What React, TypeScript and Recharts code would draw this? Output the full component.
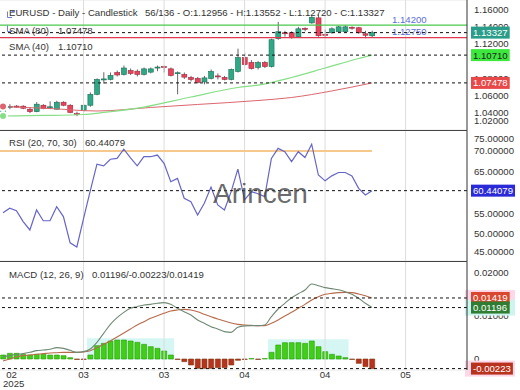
import React from 'react';
import {
  ComposedChart, Bar, Line, XAxis, YAxis, CartesianGrid, ReferenceLine, ReferenceArea, Cell,
} from 'recharts';

const FONT = '"Liberation Sans", Arial, Helvetica, sans-serif';

// daily candles, 56 of 136 shown
const opens = [
  1.0384, 1.0470, 1.0478, 1.0477, 1.0442, 1.0413, 1.0488, 1.0465, 1.0442, 1.0523,
  1.0488, 1.0390, 1.0430, 1.0488, 1.0615, 1.0788, 1.0788, 1.0869, 1.0846, 1.0892,
  1.0884, 1.0846, 1.0873, 1.0925, 1.0938, 1.0911, 1.0860, 1.0846, 1.0811, 1.0800,
  1.0759, 1.0800, 1.0829, 1.0811, 1.0788, 1.0881, 1.1042, 1.0985, 1.0927, 1.0985,
  1.0938, 1.1262, 1.1331, 1.1331, 1.1285, 1.1383, 1.1446, 1.1504, 1.1313, 1.1331,
  1.1343, 1.1343, 1.1395, 1.1389, 1.1319, 1.12956,
];
const highs = [
  1.0488, 1.0500, 1.0490, 1.0488, 1.0465, 1.0523, 1.0500, 1.0534, 1.0540, 1.0534,
  1.0500, 1.0413, 1.0500, 1.0638, 1.0800, 1.0872, 1.0869, 1.0892, 1.0950, 1.0915,
  1.0904, 1.0927, 1.0927, 1.0950, 1.0950, 1.0927, 1.0881, 1.0869, 1.0829, 1.0817,
  1.0829, 1.0904, 1.0858, 1.0829, 1.0915, 1.1146, 1.1100, 1.1013, 1.1002, 1.1002,
  1.1262, 1.1458, 1.1354, 1.1348, 1.1400, 1.1394, 1.1527, 1.1544, 1.1366, 1.1394,
  1.1412, 1.1418, 1.1406, 1.1400, 1.1354, 1.13552,
];
const lows = [
  1.0361, 1.0442, 1.0460, 1.0442, 1.0396, 1.0407, 1.0442, 1.0442, 1.0437, 1.0477,
  1.0396, 1.0361, 1.0407, 1.0471, 1.0604, 1.0739, 1.0777, 1.0823, 1.0834, 1.0840,
  1.0823, 1.0834, 1.0858, 1.0884, 1.0869, 1.0823, 1.0615, 1.0794, 1.0765, 1.0742,
  1.0731, 1.0788, 1.0788, 1.0777, 1.0777, 1.0869, 1.0944, 1.0904, 1.0904, 1.0921,
  1.0927, 1.1250, 1.1285, 1.1262, 1.1273, 1.1348, 1.1435, 1.1285, 1.1273, 1.1319,
  1.1331, 1.1331, 1.1366, 1.1319, 1.1267, 1.12720,
];
const closes = [
  1.0465, 1.0476, 1.0474, 1.0453, 1.0413, 1.0500, 1.0450, 1.0470, 1.0523, 1.0488,
  1.0404, 1.0384, 1.0488, 1.0615, 1.0788, 1.0794, 1.0834, 1.0840, 1.0921, 1.0858,
  1.0846, 1.0911, 1.0911, 1.0932, 1.0930, 1.0834, 1.0866, 1.0815, 1.0788, 1.0754,
  1.0806, 1.0881, 1.0821, 1.0788, 1.0904, 1.1042, 1.0961, 1.0915, 1.0985, 1.0938,
  1.1250, 1.1343, 1.1319, 1.1273, 1.1377, 1.1371, 1.1510, 1.1296, 1.1302, 1.1377,
  1.1400, 1.1400, 1.1385, 1.1331, 1.1302, 1.13327,
];

// moving averages, read at a few candles
const sma40Idx = [0, 6, 12, 15, 21, 28, 35, 38, 43, 48, 53, 55];
const sma40Val = [1.0363, 1.0369, 1.0380, 1.0404, 1.0467, 1.0584, 1.0694, 1.0723, 1.0811, 1.0921, 1.1032, 1.10710];
const sma80Idx = [0, 7, 14, 22, 29, 38, 43, 49, 55];
const sma80Val = [1.0473, 1.0450, 1.0421, 1.0462, 1.0497, 1.0543, 1.0578, 1.0654, 1.07478];

const rsiValues = [
  55.1, 56.2, 55.6, 53.0, 51.0, 55.8, 53.2, 53.2, 56.6, 54.2,
  47.9, 46.9, 53.7, 60.4, 66.8, 66.4, 68.0, 68.2, 70.4, 68.3,
  66.4, 68.6, 68.6, 69.0, 67.0, 62.6, 63.4, 58.6, 57.8, 54.6,
  57.4, 61.3, 57.0, 55.8, 60.2, 65.6, 58.2, 60.2, 59.7, 59.0,
  68.2, 70.6, 69.8, 67.4, 69.8, 68.4, 71.6, 64.2, 62.8, 64.0,
  64.8, 64.8, 64.0, 61.0, 59.4, 60.44079,
];

const macdValues = [
  0.00054, 0.00078, 0.00109, 0.00124, 0.00155, 0.00194, 0.00209, 0.00225, 0.00264, 0.00248,
  0.00202, 0.00155, 0.00171, 0.00233, 0.00388, 0.00597, 0.00806, 0.00961, 0.01085, 0.01178,
  0.01217, 0.01256, 0.01271, 0.01295, 0.0131, 0.01271, 0.01178, 0.01101, 0.01023, 0.00907,
  0.00829, 0.00752, 0.00698, 0.00636, 0.0062, 0.0074, 0.0077, 0.00775, 0.00775, 0.00791,
  0.00984, 0.01163, 0.01295, 0.01426, 0.01519, 0.01605, 0.01744, 0.01705, 0.01659, 0.01636,
  0.01612, 0.01566, 0.01504, 0.01411, 0.01295, 0.01196,
];
const signalValues = [
  -0.00047, 0, 0.00047, 0.00078, 0.00093, 0.00109, 0.00124, 0.0014, 0.00147, 0.00155,
  0.00155, 0.00155, 0.00163, 0.00194, 0.00264, 0.00341, 0.00419, 0.00512, 0.00605, 0.00698,
  0.00791, 0.00868, 0.00946, 0.01008, 0.01062, 0.01116, 0.0114, 0.01155, 0.0114, 0.01101,
  0.01039, 0.00984, 0.0093, 0.00884, 0.00837, 0.00806, 0.00791, 0.00783, 0.00775, 0.00775,
  0.00829, 0.00907, 0.01, 0.01085, 0.01178, 0.01271, 0.01372, 0.0145, 0.01504, 0.01527,
  0.01543, 0.0155, 0.01543, 0.01512, 0.01473, 0.01419,
];
const histValues = [
  0.00093, 0.00132, 0.00132, 0.00109, 0.00093, 0.00109, 0.00109, 0.00093, 0.00093, 0.00078,
  0.00031, -0.0001, -0.0001, 0.00093, 0.0031, 0.00364, 0.00419, 0.00442, 0.00442, 0.00419,
  0.00388, 0.00341, 0.00287, 0.00248, 0.00186, 0.00093, -0.0001, -0.00062, -0.0014, -0.00217,
  -0.00217, -0.00217, -0.00202, -0.00202, -0.0014, -0.0003, -0.0001, 0.0001, -0.0001, 0.0001,
  0.00155, 0.00326, 0.0038, 0.0038, 0.0038, 0.00364, 0.00419, 0.00287, 0.00171, 0.00109,
  0.0007, 0.00031, -0.0001, -0.00101, -0.00178, -0.00223,
];

const xTicks = [0, 12, 24, 36, 48, 60];
const xLabels = ['02', '03', '03', '04', '04', '05'];
const yearLabel = '2025';

const priceTicks = [1.02, 1.04, 1.06, 1.08, 1.1, 1.12, 1.14, 1.16];
const rsiTicks = [45, 50, 55, 60, 65, 70, 75];
const macdTicks = [0, 0.01, 0.02];

const levelHigh = 1.142;
const levelLow = 1.1275;
const rsiUpper = 70;

const X_DOMAIN: [number, number] = [-0.45, 69.15];
const last = closes.length - 1;

const sma40Map = new Map(sma40Idx.map((k, j) => [k, sma40Val[j]]));
const sma80Map = new Map(sma80Idx.map((k, j) => [k, sma80Val[j]]));

const data = closes.map((c, i) => ({
  i,
  open: opens[i],
  high: highs[i],
  low: lows[i],
  close: c,
  range: [lows[i], highs[i]],
  sma40: sma40Map.has(i) ? sma40Map.get(i) : null,
  sma80: sma80Map.has(i) ? sma80Map.get(i) : null,
  rsi: rsiValues[i],
  macd: macdValues[i],
  signal: signalValues[i],
  hist: histValues[i],
}));

// shaded blocks behind runs of same-sign histogram bars
const histRuns: { sign: number; start: number; end: number; peak: number }[] = [];
let run: any = null;
histValues.forEach((h, i) => {
  const s = Math.abs(h) < 0.0002 ? 0 : Math.sign(h);
  if (s === 0) { run = null; return; }
  if (run && run.sign === s) {
    run.end = i;
    run.peak = s > 0 ? Math.max(run.peak, h) : Math.min(run.peak, h);
  } else {
    run = { sign: s, start: i, end: i, peak: h };
    histRuns.push(run);
  }
});

const fmt = (v: number) => (v === 0 ? '0' : v.toFixed(5));

const charW = (ch: string) => (ch === '.' ? 0.278 : ch === '-' ? 0.333 : 0.556) * 9.6;

// right-hand tick text, kept inside its panel
const AxisText = (props: any) => {
  const { viewBox, text, lo, hi } = props;
  if (!viewBox) return null;
  const yy = Math.max(lo, Math.min(hi, viewBox.y));
  return (
    <text x={viewBox.x + viewBox.width + 7} y={yy + 3.4} fontSize={9.6} fill="#333" fontFamily={FONT}>{text}</text>
  );
};

const Tag = (props: any) => {
  const { viewBox, text, bg, fg } = props;
  if (!viewBox) return null;
  const w = text.split('').reduce((s: number, ch: string) => s + charW(ch), 0) + 4;
  const bx = viewBox.x + viewBox.width + 4;
  const cy = viewBox.y;
  return (
    <g>
      <rect x={bx} y={cy - 6} width={w} height={12} fill={bg} />
      <text x={bx + 2} y={cy + 3.4} fontSize={9.6} fill={fg} fontFamily={FONT}>{text}</text>
    </g>
  );
};

const Halo = (props: any) => {
  const { viewBox, color } = props;
  if (!viewBox) return null;
  const bx = viewBox.x + viewBox.width - 2;
  return <rect x={bx} y={viewBox.y - 8} width={50} height={16} fill={color} />;
};

const LevelLabel = (props: any) => {
  const { viewBox, text } = props;
  if (!viewBox) return null;
  return (
    <text x={viewBox.x + 392} y={viewBox.y - 2.5} fontSize={9.6} fill="#5a6fd8" fontFamily={FONT}>{text}</text>
  );
};

const Candle = (props: any) => {
  const { x, y, width, height, payload } = props;
  if (!payload) return null;
  const top = Math.min(y, y + height);
  const bottom = Math.max(y, y + height);
  const span = payload.high - payload.low;
  const k = span > 0 ? (bottom - top) / span : 0;
  const yOpen = top + (payload.high - payload.open) * k;
  const yClose = top + (payload.high - payload.close) * k;
  const up = payload.close >= payload.open;
  const cx = x + width / 2;
  const bodyTop = Math.min(yOpen, yClose);
  const bodyH = Math.max(1, Math.abs(yOpen - yClose));
  return (
    <g>
      <line x1={cx} x2={cx} y1={top} y2={bottom} stroke="#666" strokeWidth={1} />
      <rect
        x={x} y={bodyTop} width={width} height={bodyH}
        fill={up ? '#2fa886' : '#e8435c'}
        stroke={up ? '#1d6e57' : '#9c2a3c'} strokeWidth={0.6}
      />
    </g>
  );
};

const XTick = (props: any) => {
  const { x, y, payload } = props;
  const k = xTicks.indexOf(payload.value);
  const first = k === 0;
  return (
    <g>
      <text x={first ? x + 8.5 : x} y={y + 7.7} fontSize={9.6} fill="#333" fontFamily={FONT} textAnchor="middle">
        {xLabels[k]}
      </text>
      {first && (
        <text x={x} y={y + 16.8} fontSize={9.6} fill="#333" fontFamily={FONT} textAnchor="start">{yearLabel}</text>
      )}
    </g>
  );
};

// tick texts; ones sitting right under a value tag are left out, as they are hidden there
const axisTexts = (ticks: number[], lo: number, hi: number, hidden: number[] = []) =>
  ticks.filter(v => !hidden.includes(v)).map(v => (
    <ReferenceLine key={'t' + v} y={v} stroke="none" label={<AxisText text={fmt(v)} lo={lo} hi={hi} />} />
  ));

const MARGIN = { top: 0, right: 0, bottom: 0, left: 0 };
const vGrid = xTicks.slice(1).map(v => <ReferenceLine key={'g' + v} x={v} stroke="#dcdcdc" />);

export default function App() {
  return (
    <div style={{ position: 'absolute', left: 0, top: 0, width: 520, height: 390, background: '#fff', fontFamily: FONT }}>
      <div style={{ position: 'absolute', left: 0, top: 0 }}>
        <ComposedChart width={520} height={130} data={data} margin={MARGIN}>
          <CartesianGrid vertical={false} stroke="#e8e8e8" />
          <XAxis type="number" dataKey="i" domain={X_DOMAIN} hide allowDataOverflow />
          <YAxis
            orientation="right" width={53} domain={[1.02, 1.1712]} ticks={priceTicks} interval={0}
            allowDataOverflow axisLine={{ stroke: '#333' }} tickLine={false} tick={false}
          />
          {vGrid}
          <ReferenceLine y={levelHigh} stroke="#4ac94a" strokeWidth={1.2} label={<LevelLabel text={levelHigh.toFixed(5)} />} />
          <ReferenceLine y={levelLow} stroke="#e0384f" strokeWidth={1.2} label={<LevelLabel text={levelLow.toFixed(5)} />} />
          <Line dataKey="sma80" type="monotone" stroke="#dc6670" strokeWidth={1} dot={false} connectNulls isAnimationActive={false} />
          <Line dataKey="sma40" type="monotone" stroke="#86df86" strokeWidth={1.2} dot={false} connectNulls isAnimationActive={false} />
          <Bar dataKey="range" barSize={5} shape={<Candle />} isAnimationActive={false} />
          {axisTexts(priceTicks, 9, 121, [1.1])}
          <ReferenceLine y={closes[last]} stroke="#111" strokeDasharray="3 3" label={<Tag text={fmt(closes[last])} bg="#2a9d8a" fg="#fff" />} />
          <ReferenceLine y={sma40Val[sma40Val.length - 1]} stroke="#111" strokeDasharray="3 3" label={<Tag text={fmt(sma40Val[sma40Val.length - 1])} bg="#3de83d" fg="#222" />} />
          <ReferenceLine y={sma80Val[sma80Val.length - 1]} stroke="#111" strokeDasharray="3 3" label={<Tag text={fmt(sma80Val[sma80Val.length - 1])} bg="#e84848" fg="#fff" />} />
        </ComposedChart>
      </div>

      <div style={{ position: 'absolute', left: 0, top: 130 }}>
        <ComposedChart width={520} height={131} data={data} margin={MARGIN}>
          <CartesianGrid vertical={false} stroke="#e8e8e8" />
          <XAxis type="number" dataKey="i" domain={X_DOMAIN} hide allowDataOverflow />
          <YAxis
            orientation="right" width={53} domain={[43.53, 75.02]} ticks={rsiTicks} interval={0}
            allowDataOverflow axisLine={{ stroke: '#333' }} tickLine={false} tick={false}
          />
          {vGrid}
          <ReferenceLine segment={[{ x: X_DOMAIN[0], y: rsiUpper }, { x: last, y: rsiUpper }]} stroke="#f6c88c" strokeWidth={2} />
          <Line dataKey="rsi" type="linear" stroke="#6565c9" strokeWidth={1.2} dot={false} isAnimationActive={false} />
          {axisTexts(rsiTicks, 9, 122, [60])}
          <ReferenceLine y={rsiValues[last]} stroke="#111" strokeDasharray="3 3" label={<Tag text={fmt(rsiValues[last])} bg="#2a2ad8" fg="#fff" />} />
        </ComposedChart>
      </div>

      <div style={{ position: 'absolute', left: 0, top: 261 }}>
        <ComposedChart width={520} height={129} data={data} margin={MARGIN}>
          <CartesianGrid vertical={false} stroke="#e8e8e8" />
          <XAxis
            type="number" dataKey="i" domain={X_DOMAIN} allowDataOverflow ticks={xTicks} interval={0}
            axisLine={false} tickLine={false} tickSize={0} tickMargin={0} height={20} tick={XTick}
          />
          <YAxis
            orientation="right" width={53} domain={[-0.002558, 0.02279]} ticks={macdTicks} interval={0}
            allowDataOverflow axisLine={{ stroke: '#333' }} tickLine={false} tick={false}
          />
          {vGrid}
          {histRuns.map((r, k) => (
            <ReferenceArea
              key={'r' + k} x1={r.start - 0.5} x2={r.end + 0.5}
              y1={-r.sign * 0.0002} y2={r.peak + r.sign * 0.0004}
              fill={r.sign > 0 ? '#d6f6f3' : '#fde0ee'} fillOpacity={1} stroke="none"
            />
          ))}
          <Bar dataKey="hist" barSize={5} isAnimationActive={false}>
            {histValues.map((h, k) => (
              <Cell key={k} fill={h >= 0 ? '#3fcf14' : '#b8321e'} stroke={h >= 0 ? '#2c9a0c' : '#7a3a10'} strokeWidth={0.6} />
            ))}
          </Bar>
          <Line dataKey="signal" type="monotone" stroke="#b86a4b" strokeWidth={1.1} dot={false} isAnimationActive={false} />
          <Line dataKey="macd" type="monotone" stroke="#6f8a74" strokeWidth={1.1} dot={false} isAnimationActive={false} />
          {axisTexts(macdTicks, 9, 100)}
          <ReferenceLine y={signalValues[last]} stroke="none" label={<Halo color="#fdd8e8" />} />
          <ReferenceLine y={macdValues[last]} stroke="none" label={<Halo color="#cdf4ef" />} />
          <ReferenceLine y={histValues[last]} stroke="none" label={<Halo color="#fdd8e8" />} />
          <ReferenceLine y={signalValues[last]} stroke="#111" strokeDasharray="3 3" label={<Tag text={fmt(signalValues[last])} bg="#d9472e" fg="#fff" />} />
          <ReferenceLine y={macdValues[last]} stroke="#111" strokeDasharray="3 3" label={<Tag text={fmt(macdValues[last])} bg="#2e7d32" fg="#fff" />} />
          <ReferenceLine y={histValues[last]} stroke="#111" strokeDasharray="3 3" label={<Tag text={fmt(histValues[last])} bg="#b8321e" fg="#fff" />} />
        </ComposedChart>
      </div>

      <div style={{ position: 'absolute', left: 0, top: 130, width: 467, height: 1, background: '#444' }} />
      <div style={{ position: 'absolute', left: 0, top: 261, width: 467, height: 1, background: '#444' }} />

      <svg width={520} height={390} style={{ position: 'absolute', left: 0, top: 0, pointerEvents: 'none' }} fontFamily={FONT}>
        <path d="M7.5 11.5 V17.5 H12" stroke="#6c80d8" fill="none" strokeWidth={1} />
        <path d="M11.5 11.5 H15" stroke="#6c80d8" fill="none" strokeWidth={1} />
        <path d="M7.5 25.5 V31.5 H12" stroke="#6c80d8" fill="none" strokeWidth={1} />
        <text x={9} y={15.5} fontSize={9.6} fill="#333">EURUSD - Daily - Candlestick</text>
        <text x={145} y={15.5} fontSize={9.6} fill="#333">
          {`${closes.length}/136 - O:${fmt(opens[last])} - H:${fmt(highs[last])} - L:${fmt(lows[last])} - C:${fmt(closes[last])}`}
        </text>
        <text x={9} y={33.5} fontSize={9.6} fill="#333">SMA (80)</text>
        <text x={58} y={33.5} fontSize={9.6} fill="#333">{fmt(sma80Val[sma80Val.length - 1])}</text>
        <text x={9} y={50} fontSize={9.6} fill="#333">SMA (40)</text>
        <text x={58} y={50} fontSize={9.6} fill="#333">{fmt(sma40Val[sma40Val.length - 1])}</text>
        <text x={9} y={145.7} fontSize={9.6} fill="#333">RSI (20, 70, 30)</text>
        <text x={85} y={145.7} fontSize={9.6} fill="#333">{fmt(rsiValues[last])}</text>
        <text x={9} y={277.5} fontSize={9.6} fill="#333">MACD (12, 26, 9)</text>
        <text x={92} y={277.5} fontSize={9.6} fill="#333">
          {`${fmt(macdValues[last])}/${fmt(histValues[last])}/${fmt(signalValues[last])}`}
        </text>
        <text x={213} y={203} fontSize={28} fill="#444" fillOpacity={0.8}>Arincen</text>
      </svg>
    </div>
  );
}
